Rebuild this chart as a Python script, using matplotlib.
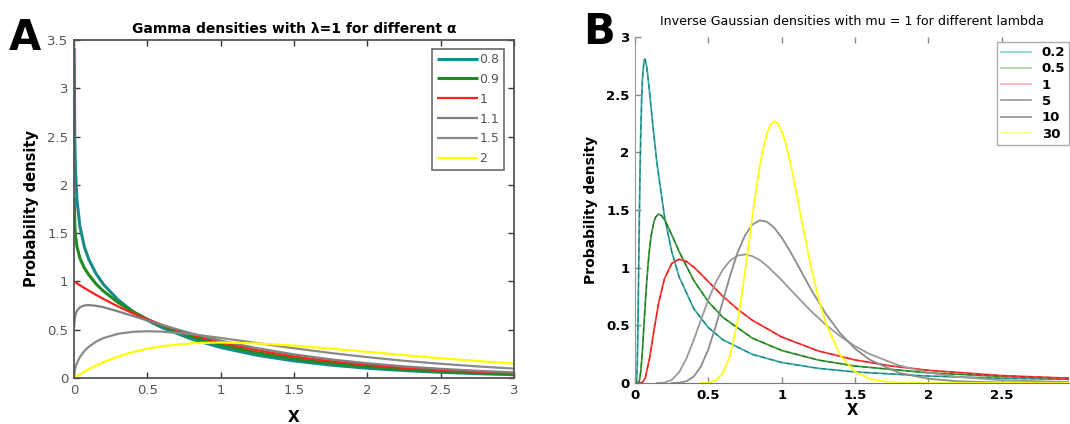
import matplotlib.pyplot as plt
import matplotlib.ticker as ticker
from matplotlib.lines import Line2D

# ---- Panel A: gamma densities (lambda = 1)
gamma_x = [0.001, 0.005, 0.01, 0.02, 0.04, 0.07, 0.1, 0.15, 0.2, 0.3, 0.4, 0.5,
           0.6, 0.8, 1.0, 1.25, 1.5, 1.75, 2.0, 2.25, 2.5, 2.75, 3.0]
gamma_08 = [3.42, 2.47, 2.14, 1.84, 1.57, 1.36, 1.23, 1.08, 0.97, 0.81, 0.69, 0.598,
            0.522, 0.404, 0.316, 0.235, 0.177, 0.134, 0.101, 0.077, 0.059, 0.045, 0.034]
gamma_09 = [1.87, 1.58, 1.47, 1.36, 1.24, 1.14, 1.07, 0.974, 0.90, 0.782, 0.687, 0.608,
            0.54, 0.43, 0.344, 0.262, 0.20, 0.154, 0.118, 0.091, 0.070, 0.054, 0.042]
gamma_10 = [0.999, 0.995, 0.99, 0.98, 0.961, 0.932, 0.905, 0.861, 0.819, 0.741, 0.670, 0.607,
            0.549, 0.449, 0.368, 0.287, 0.223, 0.174, 0.135, 0.105, 0.082, 0.064, 0.050]
gamma_11 = [0.526, 0.616, 0.657, 0.697, 0.732, 0.751, 0.755, 0.748, 0.733, 0.690, 0.643, 0.595,
            0.548, 0.462, 0.387, 0.308, 0.244, 0.193, 0.152, 0.120, 0.095, 0.074, 0.058]
gamma_15 = [0.036, 0.079, 0.112, 0.156, 0.217, 0.278, 0.323, 0.376, 0.413, 0.458, 0.478, 0.484,
            0.480, 0.454, 0.415, 0.361, 0.308, 0.259, 0.216, 0.178, 0.147, 0.120, 0.097]
gamma_20 = [0.001, 0.005, 0.010, 0.020, 0.038, 0.065, 0.091, 0.129, 0.164, 0.222, 0.268, 0.303,
            0.329, 0.360, 0.368, 0.358, 0.335, 0.304, 0.271, 0.237, 0.205, 0.176, 0.149]
gamma_labels = ["0.8", "0.9", "1", "1.1", "1.5", "2"]

# ---- Panel B: inverse Gaussian densities (mu = 1)
ig02_x = [0.005, 0.01, 0.015, 0.02, 0.025, 0.03, 0.035, 0.04, 0.045, 0.05, 0.06, 0.066,
          0.07, 0.08, 0.09, 0.1, 0.12, 0.15, 0.2, 0.25, 0.3, 0.4, 0.5, 0.6, 0.8, 1.0,
          1.25, 1.5, 2.0, 2.5, 3.0]
ig02_y = [0.0, 0.01, 0.15, 0.52, 1.01, 1.49, 1.90, 2.23, 2.46, 2.63, 2.78, 2.81,
          2.80, 2.74, 2.63, 2.51, 2.25, 1.90, 1.45, 1.14, 0.922, 0.645, 0.48, 0.374, 0.248,
          0.178, 0.127, 0.096, 0.060, 0.041, 0.030]
ig05_x = [0.01, 0.02, 0.03, 0.04, 0.05, 0.06, 0.07, 0.08, 0.09, 0.1, 0.11, 0.13, 0.14,
          0.16, 0.18, 0.2, 0.22, 0.25, 0.3, 0.4, 0.5, 0.6, 0.8, 1.0, 1.25, 1.5, 2.0, 2.5, 3.0]
ig05_y = [0.0, 0.001, 0.021, 0.111, 0.277, 0.483, 0.694, 0.885, 1.047, 1.177, 1.278, 1.404,
          1.438, 1.464, 1.452, 1.417, 1.369, 1.286, 1.141, 0.890, 0.704, 0.568, 0.389, 0.282,
          0.199, 0.147, 0.088, 0.057, 0.039]
ig1_x = [0.03, 0.05, 0.07, 0.1, 0.13, 0.16, 0.2, 0.25, 0.3, 0.35, 0.4, 0.45, 0.5, 0.6, 0.7,
         0.8, 1.0, 1.25, 1.5, 1.75, 2.0, 2.5, 3.0]
ig1_y = [0.0, 0.004, 0.045, 0.220, 0.463, 0.688, 0.901, 1.036, 1.073, 1.054, 1.006, 0.944,
         0.879, 0.751, 0.639, 0.544, 0.399, 0.278, 0.200, 0.147, 0.110, 0.064, 0.039]
ig5_x = [0.15, 0.2, 0.25, 0.3, 0.35, 0.4, 0.45, 0.5, 0.55, 0.6, 0.65, 0.7, 0.75, 0.8,
         0.85, 0.9, 1.0, 1.1, 1.2, 1.3, 1.4, 1.5, 1.6, 1.8, 2.0, 2.2, 2.5, 3.0]
ig5_y = [0.0, 0.003, 0.026, 0.092, 0.211, 0.372, 0.550, 0.723, 0.871, 0.986, 1.063, 1.105,
         1.115, 1.100, 1.066, 1.016, 0.892, 0.756, 0.624, 0.506, 0.405, 0.320, 0.251,
         0.152, 0.090, 0.053, 0.024, 0.006]
ig10_x = [0.25, 0.3, 0.35, 0.4, 0.45, 0.5, 0.55, 0.6, 0.65, 0.7, 0.75, 0.8, 0.85, 0.9,
          0.95, 1.0, 1.05, 1.1, 1.2, 1.3, 1.4, 1.5, 1.6, 1.8, 2.0, 2.2, 2.5, 3.0]
ig10_y = [0.0, 0.002, 0.015, 0.055, 0.145, 0.293, 0.491, 0.716, 0.938, 1.133, 1.280, 1.373,
          1.410, 1.398, 1.345, 1.262, 1.159, 1.045, 0.812, 0.602, 0.430, 0.298, 0.202,
          0.088, 0.037, 0.015, 0.004, 0.0]
ig30_x = [0.45, 0.5, 0.55, 0.6, 0.65, 0.7, 0.725, 0.75, 0.775, 0.8, 0.825, 0.85, 0.875,
          0.9, 0.925, 0.95, 0.975, 1.0, 1.025, 1.05, 1.075, 1.1, 1.125, 1.15, 1.2, 1.25,
          1.3, 1.4, 1.5, 1.6, 1.7, 1.8, 2.0, 2.5, 3.0]
ig30_y = [0.0, 0.003, 0.021, 0.086, 0.247, 0.543, 0.740, 0.964, 1.202, 1.443, 1.671, 1.875,
          2.042, 2.166, 2.242, 2.269, 2.248, 2.185, 2.087, 1.960, 1.813, 1.653, 1.487, 1.321,
          1.008, 0.739, 0.522, 0.238, 0.098, 0.037, 0.013, 0.004, 0.0, 0.0, 0.0]
ig_labels = ["0.2", "0.5", "1", "5", "10", "30"]

# --- Style ---
gamma_colors = ["#178a8a", "#1e8c1e", "#ff2020", "#808080", "#8a8a8a", "#ffff00"]
gamma_widths = [2.2, 2.2, 1.6, 1.6, 1.6, 1.6]
ig_colors = ["#3aabab", "#3a9e3a", "#ff3a3a", "#9a9a9a", "#8c8c8c", "#ffff10"]
ig_dark = ["#1d7878", "#1f6e1f", "#d02020", None, None, None]
ig_legend_colors = ["#8fd3d3", "#a6dba6", "#ffb3b3", "#a0a0a0", "#9a9a9a", "#ffff90"]

plt.close("all")
fig = plt.figure(figsize=(10.7, 4.24), dpi=100)
ax_a = fig.add_axes([0.0692, 0.1085, 0.4112, 0.7972])
ax_b = fig.add_axes([0.5935, 0.0967, 0.4056, 0.8160])

# --- Panel A ---
gamma_series = [gamma_08, gamma_09, gamma_10, gamma_11, gamma_15, gamma_20]
for ys, c, lw, lab in zip(gamma_series, gamma_colors, gamma_widths, gamma_labels):
    ax_a.plot(gamma_x, ys, color=c, lw=lw, label=lab, solid_capstyle="butt")

ax_a.set_xlim(0, 3)
ax_a.set_ylim(0, 3.5)
ax_a.set_xticks([0, 0.5, 1, 1.5, 2, 2.5, 3])
ax_a.set_yticks([0, 0.5, 1, 1.5, 2, 2.5, 3, 3.5])
fmt = ticker.FuncFormatter(lambda v, _: f"{v:g}")
ax_a.xaxis.set_major_formatter(fmt)
ax_a.yaxis.set_major_formatter(fmt)
ax_a.tick_params(direction="in", top=True, right=True, length=4, width=1,
                 color="#333333", labelsize=9.5, labelcolor="#555555", pad=4)
for s in ax_a.spines.values():
    s.set_color("#555555")
    s.set_linewidth(1.3)
ax_a.set_title("Gamma densities with λ=1 for different α", fontsize=10,
               fontweight="bold", pad=5)
ax_a.set_ylabel("Probability density", fontsize=10.5, fontweight="bold", labelpad=6)
ax_a.set_xlabel("X", fontsize=11, fontweight="bold", labelpad=10)
leg_a = ax_a.legend(loc="upper right", bbox_to_anchor=(0.982, 0.982), fontsize=9,
                    frameon=True, fancybox=False, edgecolor="#444444",
                    handlelength=3.3, handletextpad=0.1, borderpad=0.35,
                    labelspacing=0.55, borderaxespad=0.2)
leg_a.get_frame().set_linewidth(1.2)
for t in leg_a.get_texts():
    t.set_color("#555555")

# --- Panel B ---
ig_series = [(ig02_x, ig02_y), (ig05_x, ig05_y), (ig1_x, ig1_y),
             (ig5_x, ig5_y), (ig10_x, ig10_y), (ig30_x, ig30_y)]
for (xs, ys), c, dk in zip(ig_series, ig_colors, ig_dark):
    ax_b.plot(xs, ys, color=c, lw=1.3)
    if dk is not None:
        ax_b.plot(xs, ys, color=dk, lw=0.7, ls=(0, (5, 4)))

ax_b.set_xlim(0, 2.96)
ax_b.set_ylim(0, 3)
ax_b.set_xticks([0, 0.5, 1, 1.5, 2, 2.5])
ax_b.set_yticks([0, 0.5, 1, 1.5, 2, 2.5, 3])
ax_b.xaxis.set_major_formatter(fmt)
ax_b.yaxis.set_major_formatter(fmt)
ax_b.tick_params(direction="in", top=True, right=False, length=4, width=1,
                 color="#888888", labelsize=9.5, pad=4)
for lab in ax_b.get_xticklabels() + ax_b.get_yticklabels():
    lab.set_fontweight("bold")
ax_b.spines["top"].set_visible(False)
ax_b.spines["right"].set_visible(False)
ax_b.spines["left"].set_color("#999999")
ax_b.spines["bottom"].set_color("#777777")
ax_b.set_title("Inverse Gaussian densities with mu = 1 for different lambda",
               fontsize=9.1, pad=9)
ax_b.set_ylabel("Probability density", fontsize=10, fontweight="bold", labelpad=6)
ax_b.set_xlabel("X", fontsize=10.5, fontweight="bold", labelpad=1)
handles = [Line2D([], [], color=c, lw=1.3) for c in ig_legend_colors]
leg_b = ax_b.legend(handles, ig_labels, loc="upper right", bbox_to_anchor=(1.0, 0.985),
                    fontsize=9.5, frameon=True, fancybox=False, edgecolor="#999999",
                    handlelength=2.3, handletextpad=0.8, borderpad=0.3,
                    labelspacing=0.25, borderaxespad=0.0)
for t in leg_b.get_texts():
    t.set_fontweight("bold")

# --- panel letters ---
fig.text(0.008, 0.96, "A", fontsize=30, fontweight="bold", va="top", ha="left")
fig.text(0.545, 0.975, "B", fontsize=30, fontweight="bold", va="top", ha="left")

fig.savefig("out.png", dpi=100)
plt.close(fig)
